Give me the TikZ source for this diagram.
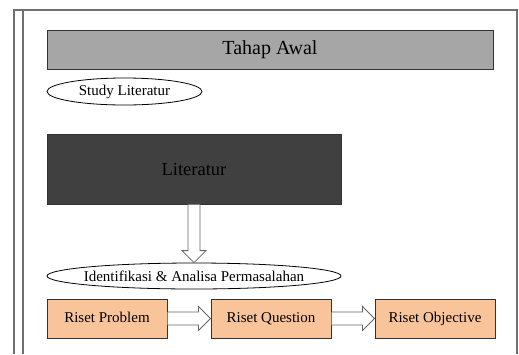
\documentclass[tikz,border=0pt]{standalone}
\usepackage{fontspec}
\setmainfont{Liberation Serif}
\usetikzlibrary{shapes.geometric,calc,positioning}
\definecolor{awalgray}{HTML}{A6A6A6}
\definecolor{litgray}{HTML}{404040}
\definecolor{risetfill}{HTML}{F9C49A}
\definecolor{framegray}{HTML}{707070}
\tikzset{
  bigfont/.style={font=\fontsize{18.5}{22}\selectfont},
  smallfont/.style={font=\fontsize{15}{18}\selectfont},
  bar/.style={draw=black!80,line width=1pt,rectangle,inner sep=0pt},
  oval/.style={draw=black,line width=0.8pt,ellipse,inner sep=0pt,fill=white,smallfont},
  riset/.style={bar,fill=risetfill,minimum width=120pt,minimum height=39pt,smallfont,text height=10pt,text depth=3pt},
  hollow/.style={draw=black!60,line width=0.8pt,fill=white,line join=miter},
}
% hollow block arrow, left to right
\newcommand{\harrow}[2]{\draw[hollow]($(#1.east)+(0,-6.5)$)--($(#2.west)+(-12,-6.5)$)--($(#2.west)+(-12,-12)$)--(#2.west)--($(#2.west)+(-12,12)$)--($(#2.west)+(-12,6.5)$)--($(#1.east)+(0,6.5)$);}
\begin{document}
\begin{tikzpicture}[x=1pt,y=-1pt]
\useasboundingbox (0,0) rectangle (519,354);
% frame
\draw[framegray,line width=1.2pt](14,354)--(14,10)--(517,10)--(517,354);
\draw[framegray,line width=1.2pt](23,10)--(23,354);
% stages
\node[bar,fill=awalgray,minimum width=446pt,minimum height=39pt,font=\fontsize{20}{24}\selectfont](awal) at (270,49.5){Tahap Awal};
\node[oval,minimum width=155pt,minimum height=27pt](study) at (124.5,91.5){Study Literatur};
\node[bar,fill=litgray,minimum width=294pt,minimum height=70pt,bigfont](lit) at (194,169){Literatur};
\node[oval,inner xsep=-12pt,minimum width=294pt,minimum height=26pt](ident) at (194,276){Identifikasi \& Analisa Permasalahan};
\node[riset](prob) at (107,318.5){Riset Problem};
\node[riset,right=43pt of prob](quest){Riset Question};
\node[riset,right=43pt of quest](obj){Riset Objective};
% arrows
\draw[hollow]($(lit.south)+(-6,0)$)--($(ident.north)+(-6,-12)$)--($(ident.north)+(-12,-12)$)--(ident.north)--($(ident.north)+(12,-12)$)--($(ident.north)+(6,-12)$)--($(lit.south)+(6,0)$);
\harrow{prob}{quest}
\harrow{quest}{obj}
\end{tikzpicture}
\end{document}
